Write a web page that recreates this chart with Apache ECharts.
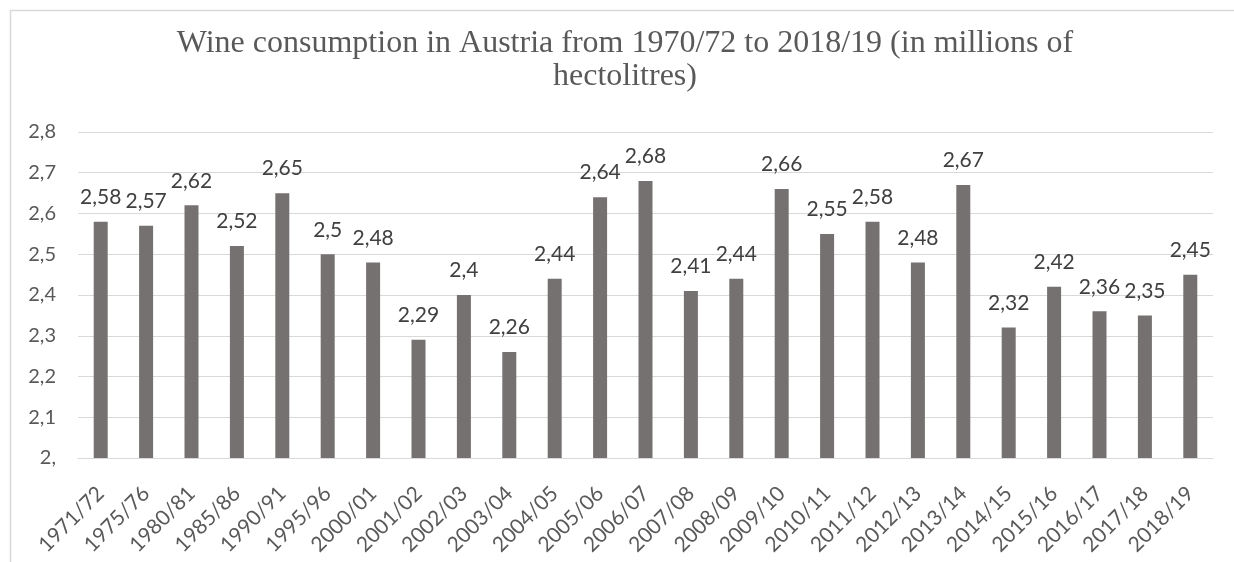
<!DOCTYPE html>
<html>
<head>
<meta charset="utf-8">
<script src="https://cdn.jsdelivr.net/npm/echarts@6/dist/echarts.min.js"></script>
<style>
html,body{margin:0;padding:0;background:#fff;}
#main{width:1234px;height:562px;}
</style>
</head>
<body>
<div id="main"></div>
<script>
var categories = ['1971/72','1975/76','1980/81','1985/86','1990/91','1995/96','2000/01','2001/02','2002/03','2003/04','2004/05','2005/06','2006/07','2007/08','2008/09','2009/10','2010/11','2011/12','2012/13','2013/14','2014/15','2015/16','2016/17','2017/18','2018/19'];
var consumption = [2.58,2.57,2.62,2.52,2.65,2.5,2.48,2.29,2.4,2.26,2.44,2.64,2.68,2.41,2.44,2.66,2.55,2.58,2.48,2.67,2.32,2.42,2.36,2.35,2.45];
var titleText = 'Wine consumption in Austria from 1970/72 to 2018/19 (in millions of\nhectolitres)';

function fmtComma(v){
  var s = String(Math.round(v*100)/100);
  if (s.indexOf('.') < 0) return s + ',';
  return s.replace('.', ',');
}

var chart = echarts.init(document.getElementById('main'), null, {renderer:'canvas'});
chart.setOption({
  animation:false,
  backgroundColor:'#ffffff',
  graphic:[{
    type:'rect', left:8, top:8, shape:{width:1300, height:700},
    style:{fill:'none', stroke:'#d9d9d9', lineWidth:1.5}, silent:true, z:-10
  }],
  title:{
    text:titleText, left:620, top:22, textAlign:'center',
    textStyle:{fontFamily:'Liberation Serif', fontSize:32, fontWeight:'normal', color:'#595959', lineHeight:33}
  },
  grid:{left:78, right:21, top:132, bottom:104},
  xAxis:{
    type:'category', data:categories,
    axisLine:{show:true, lineStyle:{color:'#d9d9d9', width:1}},
    axisTick:{show:false},
    axisLabel:{rotate:45, interval:0, margin:32, color:'#595959', fontFamily:'Lato', fontSize:21}
  },
  yAxis:{
    type:'value', min:2, max:2.8, interval:0.1,
    axisLine:{show:false}, axisTick:{show:false},
    splitLine:{lineStyle:{color:'#d9d9d9', width:1}},
    axisLabel:{formatter:fmtComma, color:'#595959', fontFamily:'Lato', fontSize:20, margin:22}
  },
  series:[{
    type:'bar', data:consumption, barWidth:14,
    itemStyle:{color:'#767171'},
    label:{show:true, position:'top', distance:14, formatter:function(p){return fmtComma(p.value);}, color:'#404040', fontFamily:'Lato', fontSize:21}
  }]
});
</script>
</body>
</html>
